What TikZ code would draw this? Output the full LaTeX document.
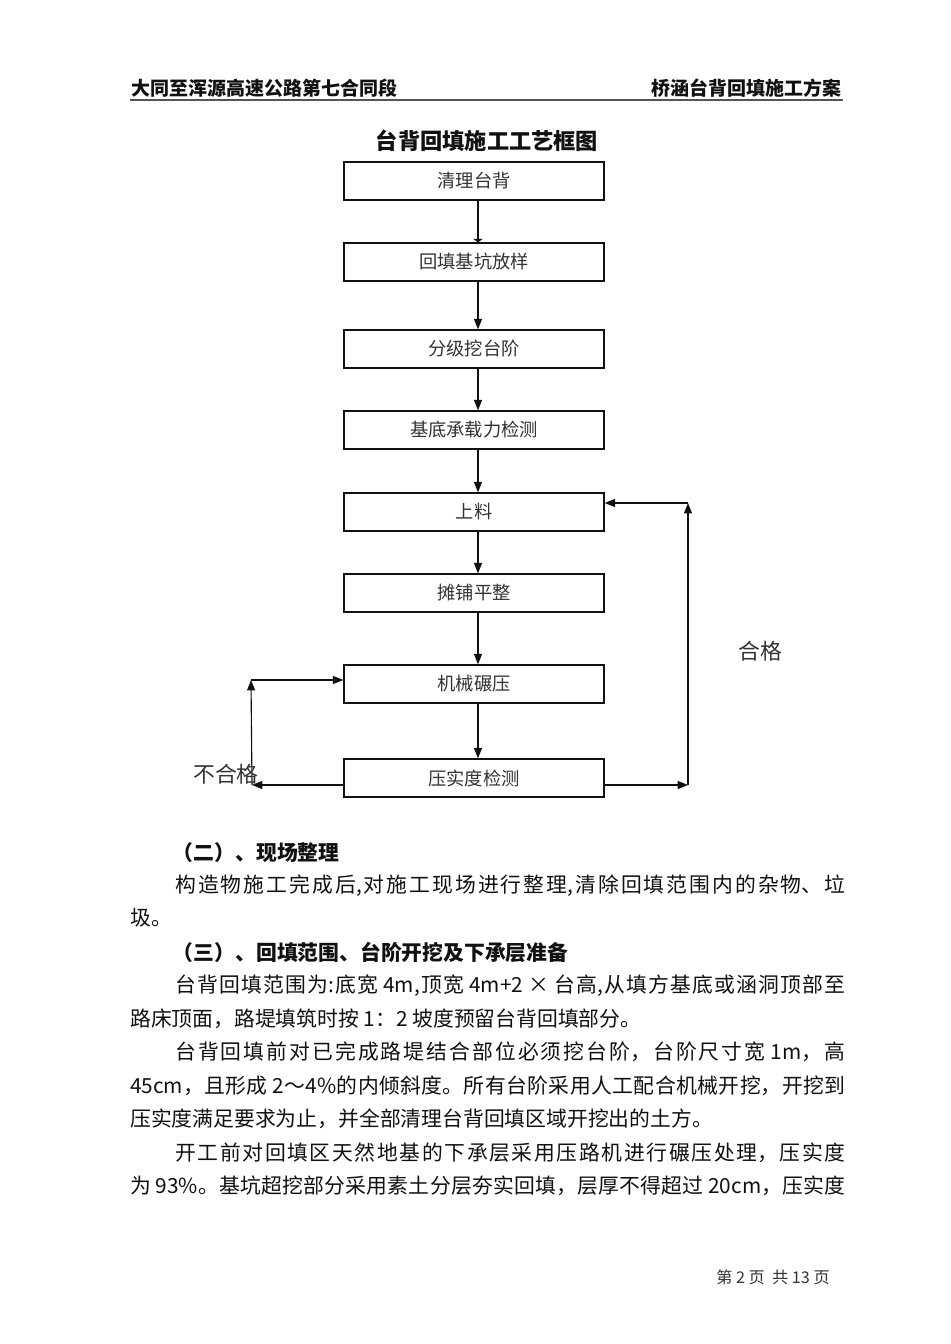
\documentclass[tikz,border=0pt]{standalone}
\usepackage{fontspec}
\setmainfont{Noto Sans CJK SC}
\usetikzlibrary{arrows.meta,positioning,calc}
\XeTeXlinebreaklocale "zh"
\XeTeXlinebreakskip=0pt plus 4pt minus 0.6pt
\definecolor{ink}{HTML}{111111}
\definecolor{boxtext}{HTML}{333333}
\definecolor{rule}{HTML}{555555}
\newcommand{\fullpar}[1]{\parfillskip=0pt #1\par}

\begin{document}
\begin{tikzpicture}[
    x=0.025cm, y=-0.025cm,
    every node/.style={text=ink},
    stepbox/.style={
        rectangle, draw=ink, line width=0.9pt,
        minimum width=6.5cm, minimum height=0.95cm,
        inner sep=0pt, text=boxtext,
        font=\fontsize{13}{15}\selectfont,
    },
    arrow/.style={-{Triangle[length=2.6mm,width=2mm]}, line width=0.8pt, draw=ink},
    flatarrow/.style={-{Triangle[length=0.9mm,width=2.4mm]}, line width=0.8pt, draw=ink},
    loopnote/.style={font=\fontsize{15.5}{18}\selectfont, text=boxtext},
    headtext/.style={font=\fontsize{13.5}{16}\selectfont\bfseries},
    secthead/.style={font=\fontsize{14.8}{18}\selectfont\bfseries, anchor=west},
    bodyline/.style={font=\fontsize{14.8}{18}\selectfont, anchor=west, inner sep=0pt},
    fullline/.style={bodyline, text width=#1, align=justify},
]

% Background
\fill[white] (0,0) rectangle (950,1344);
\useasboundingbox (0,0) rectangle (950,1344);

% =============================================================
% PAGE HEADER
% =============================================================
\node[headtext, anchor=west, inner sep=0pt] (hleft) at (131,88) {大同至浑源高速公路第七合同段};
\node[headtext, anchor=east, inner sep=0pt] (hright) at (842,88) {桥涵台背回填施工方案};
\draw[rule, line width=1.3pt] (130,100) -- (843,100);

% =============================================================
% FLOW CHART
% =============================================================
\node[font=\fontsize{15.8}{18}\selectfont\bfseries] (title) at (487,141) {台背回填施工工艺框图};

\node[stepbox] (clean)   at (474,181) {清理台背};
\node[stepbox] (stake)   at (474,262) {回填基坑放样};
\node[stepbox] (bench)   at (474,349) {分级挖台阶};
\node[stepbox] (bearing) at (474,430) {基底承载力检测};
\node[stepbox] (feed)    at (474,512) {上料};
\node[stepbox] (spread)  at (474,593) {摊铺平整};
\node[stepbox] (roll)    at (474,684) {机械碾压};
\node[stepbox] (check)   at (474,778) {压实度检测};

\draw[flatarrow] ([xshift=0.1cm]clean.south) -- ([xshift=0.1cm]stake.north);
\draw[arrow] ([xshift=0.1cm]stake.south) -- ([xshift=0.1cm]bench.north);
\draw[arrow] ([xshift=0.1cm]bench.south) -- ([xshift=0.1cm]bearing.north);
\draw[arrow] ([xshift=0.1cm]bearing.south) -- ([xshift=0.1cm]feed.north);
\draw[arrow] ([xshift=0.1cm]feed.south) -- ([xshift=0.1cm]spread.north);
\draw[arrow] ([xshift=0.1cm]spread.south) -- ([xshift=0.1cm]roll.north);
\draw[arrow] ([xshift=0.1cm]roll.south) -- ([xshift=0.1cm]check.north);

% pass loop (right side)
\coordinate (okbot) at (688,785);
\coordinate (oktop) at (688,503);
\draw[arrow] (check.east |- okbot) -- (okbot);
\draw[arrow] (okbot) -- (oktop);
\draw[arrow] (oktop) -- (feed.east |- oktop);
\node[loopnote] (pass) at (760,651) {合格};

% fail loop (left side)
\coordinate (ngbot) at (252,785);
\coordinate (ngtop) at (251,680);
\draw[arrow] (check.west |- ngbot) -- (ngbot);
\draw[arrow] (ngbot) -- (ngtop);
\draw[arrow] (ngtop) -- (roll.west |- ngtop);
\node[loopnote] (fail) at (226,774) {不合格};

% =============================================================
% BODY TEXT
% =============================================================
\node[secthead] (sec2) at (168,853) {（二）、现场整理};
\node[fullline=16.75cm] (p1a) at (175,886) {\fullpar{构造物施工完成后,对施工现场进行整理,清除回填范围内的杂物、垃}};
\node[bodyline] (p1b) at (130,918) {圾。};

\node[secthead] (sec3) at (168,952) {（三）、回填范围、台阶开挖及下承层准备};
\node[fullline=16.75cm] (p2a) at (175,986) {\fullpar{台背回填范围为:底宽 4m,顶宽 4m+2 × 台高,从填方基底或涵洞顶部至}};
\node[bodyline] (p2b) at (130,1019) {路床顶面，路堤填筑时按 1：2 坡度预留台背回填部分。};

\node[fullline=16.75cm] (p3a) at (175,1052) {\fullpar{台背回填前对已完成路堤结合部位必须挖台阶，台阶尺寸宽 1m，高}};
\node[fullline=17.875cm] (p3b) at (130,1086) {\fullpar{45cm，且形成 2～4\%的内倾斜度。所有台阶采用人工配合机械开挖，开挖到}};
\node[bodyline] (p3c) at (130,1119) {压实度满足要求为止，并全部清理台背回填区域开挖出的土方。};

\node[fullline=16.75cm] (p4a) at (175,1153) {\fullpar{开工前对回填区天然地基的下承层采用压路机进行碾压处理，压实度}};
\node[fullline=17.875cm] (p4b) at (130,1186) {\fullpar{为 93\%。基坑超挖部分采用素土分层夯实回填，层厚不得超过 20cm，压实度}};

% =============================================================
% PAGE FOOTER
% =============================================================
\node[font=\fontsize{11.5}{13}\selectfont, text=boxtext] (foot) at (773,1277) {第 2 页\ \ 共 13 页};

\end{tikzpicture}
\end{document}
